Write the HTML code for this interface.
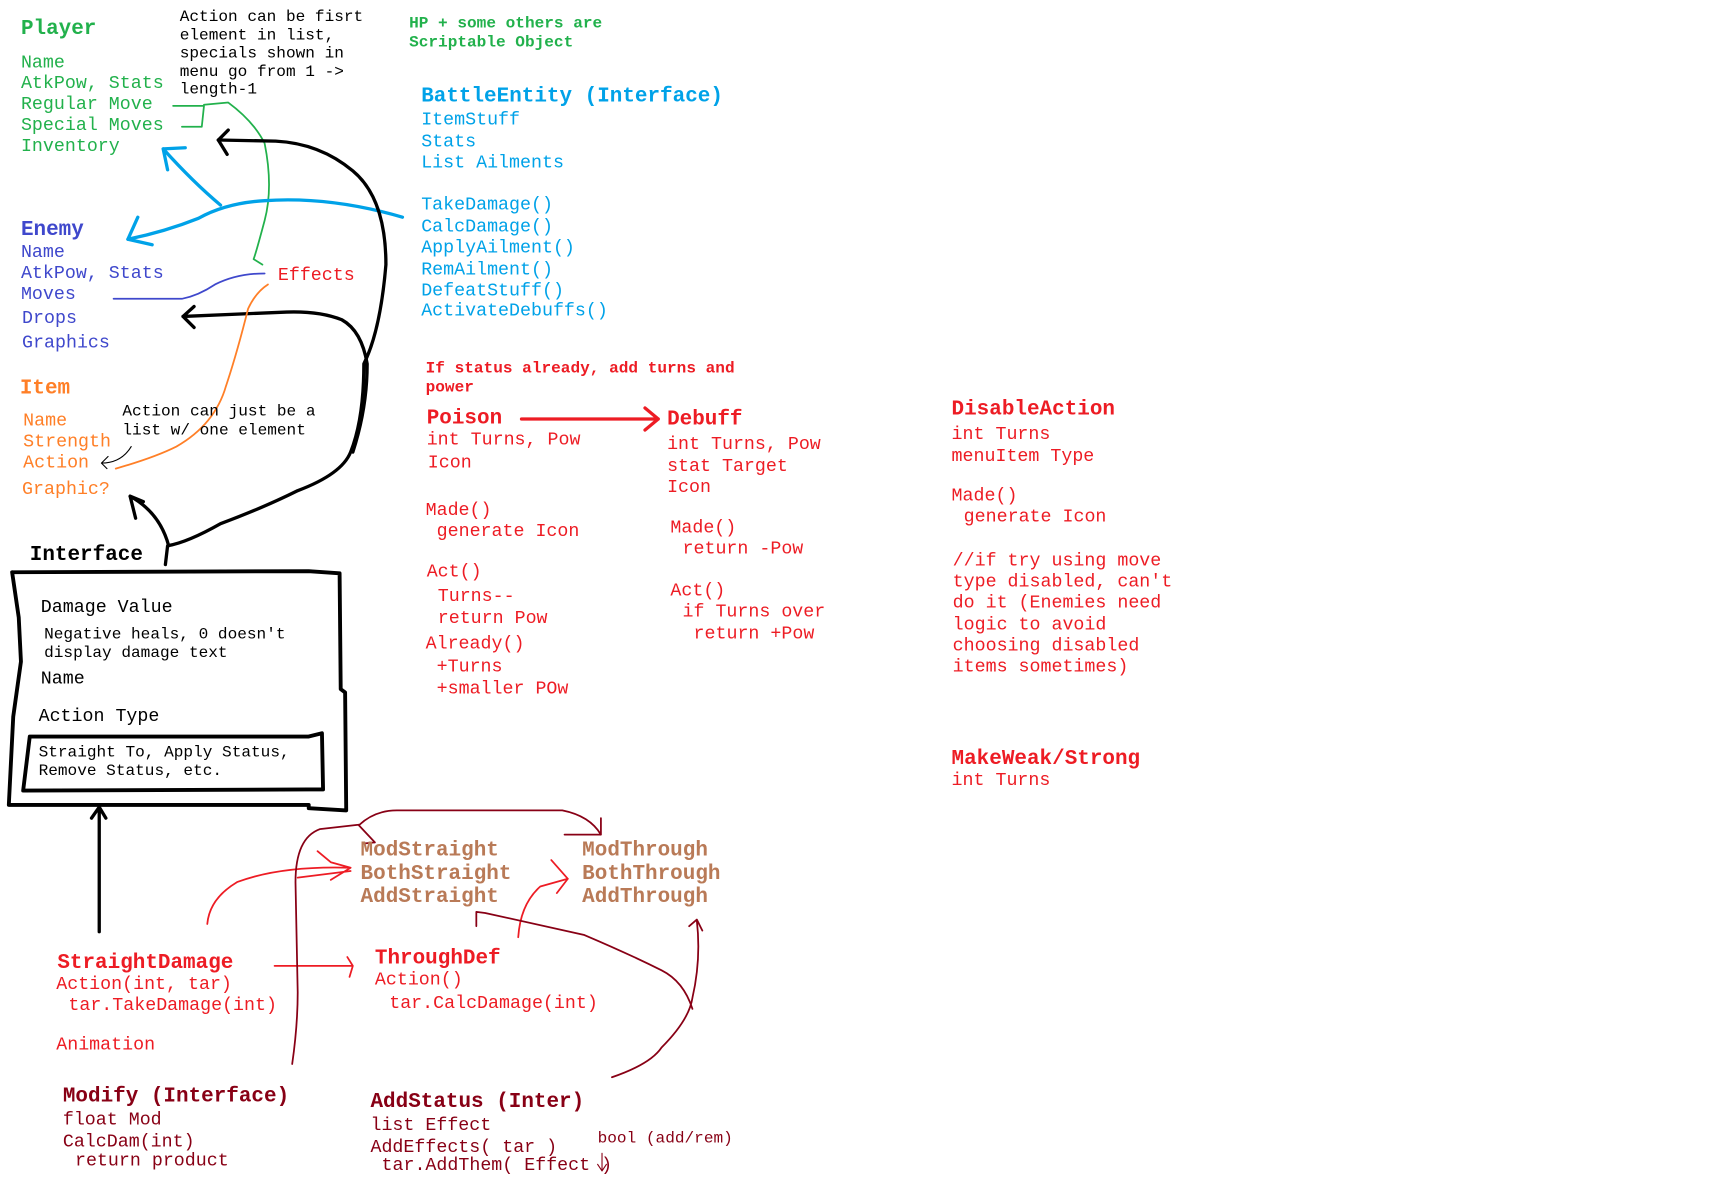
<!DOCTYPE html>
<html><head><meta charset="utf-8"><style>
html,body{margin:0;padding:0;background:#fff;width:1720px;height:1201px;overflow:hidden}
#w{position:absolute;left:0;top:0;width:1560px;height:1090px;transform:scale(1.1026);transform-origin:0 0}
.t{position:absolute;white-space:pre;font-family:"Liberation Mono","Courier New",monospace;line-height:1;margin-left:-2px;margin-top:-1px}
.n{font-size:16.6px}
.s{font-size:14.6px}
.b{font-size:19px;font-weight:bold}
.sb{font-size:14.6px;font-weight:bold}
.g{color:#22b14c}.bl{color:#00a2e8}.in{color:#3f48cc}.o{color:#ff7f27}.r{color:#ed1c24}.k{color:#000}.br{color:#b97a57}.dr{color:#880015}
svg{position:absolute;left:0;top:0}
</style></head><body><div id="w">
<svg width="1560" height="1090" fill="none" stroke-linecap="round" stroke-linejoin="round">
<g stroke="#22b14c" stroke-width="1.6">
<path d="M157 96 L185 96 L183 115 L165 115"/>
<path d="M185 95 L207 93 Q230 110 240 130 Q248 170 240 200 Q232 230 230 235 L238 240"/>
</g>
<g stroke="#00a2e8" stroke-width="3">
<path d="M365 197 Q300 178 240 182 Q205 184 180 198 Q150 210 116 217"/>
<path d="M116 217 L125 197 M116 217 L138 222"/>
<path d="M200 186 Q175 165 148 135 M148 135 L168 134 M148 135 L152 154"/>
</g>
<g stroke="#000" stroke-width="3">
<path d="M150 512 L152 495 Q170 492 200 475 Q240 460 270 445 Q310 430 318 410 Q330 380 330 330 Q345 300 350 240 Q350 180 320 155 Q290 130 250 128 L198 127"/>
<path d="M198 127 L207 118 M198 127 L206 140"/>
<path d="M153 495 Q145 465 118 450 M118 450 L123 470 M118 450 L130 455"/>
<path d="M320 410 Q333 370 333 330 Q328 300 310 290 Q290 282 260 283 L166 287 M166 287 L176 278 M166 287 L176 297"/>
<path d="M90 845 L90 732 M90 732 L83 742 M90 732 L96 742"/>
</g>
<g stroke="#000" stroke-width="3.5">
<path d="M11 519 L280 518 L308 520 L309 625 L313 628 L314 735 L280 733 L280 730 L8 730 L12 650 L19 600 L17 560 L11 519"/>
<path d="M27 668 L280 668 L292 665 L293 716 L280 716 L21 717 L27 668"/>
</g>
<path d="M103 271 L165 271 Q180 268 195 258 Q215 248 240 248" stroke="#3f48cc" stroke-width="1.6"/>
<path d="M105 425 Q140 415 160 405 Q195 385 205 350 Q215 320 225 280 Q232 265 243 258" stroke="#ff7f27" stroke-width="1.6"/>
<path d="M119 405 Q110 420 92 420 M92 420 L98 414 M92 420 L97 425" stroke="#000" stroke-width="1"/>
<g stroke="#ed1c24">
<path d="M473 380 L597 380 M585 370 L597 380 L585 390" stroke-width="3"/>
<path d="M188 838 Q190 815 215 800 Q255 785 318 787 M288 772 L300 782 L318 787 L300 798 M270 796 L318 790" stroke-width="1.6"/>
<path d="M249 876 L320 876 M315 868 L320 876 L317 886" stroke-width="1.6"/>
<path d="M470 850 Q472 820 490 804 L515 797 M500 780 L515 797 L505 810" stroke-width="1.6"/>
</g>
<g stroke="#880015" stroke-width="1.6">
<path d="M265 965 Q270 930 270 900 L268 800 Q268 760 290 752 L325 748 M325 748 L340 764 M330 765 L340 764"/>
<path d="M326 748 Q340 735 360 735 L510 735 Q535 740 545 757 M545 742 L545 757 L512 757"/>
<path d="M555 977 Q590 965 600 950 Q625 925 628 905 Q636 870 632 835 M625 840 L632 834 L637 844"/>
<path d="M628 915 Q620 890 600 880 Q570 865 530 848 L440 828 L432 827 L432 840"/>
<path d="M546 1046 L546 1062 M542 1056 L546 1062 L550 1056" stroke-width="1"/>
</g>
</svg>

<div class="t b g" style="left:21px;top:18px">Player</div>
<div class="t n g" style="left:21px;top:50px">Name</div>
<div class="t n g" style="left:21px;top:69px">AtkPow, Stats</div>
<div class="t n g" style="left:21px;top:88px">Regular Move</div>
<div class="t n g" style="left:21px;top:107px">Special Moves</div>
<div class="t n g" style="left:21px;top:126px">Inventory</div>

<div class="t s k" style="left:165px;top:9px;line-height:16.5px">Action can be fisrt
element in list,
specials shown in
menu go from 1 ->
length-1</div>

<div class="t sb g" style="left:373px;top:15px;line-height:16.5px">HP + some others are
Scriptable Object</div>

<div class="t b bl" style="left:384px;top:79px">BattleEntity (Interface)</div>
<div class="t n bl" style="left:384px;top:100px;line-height:19.5px">ItemStuff
Stats
List Ailments</div>
<div class="t n bl" style="left:384px;top:177px;line-height:19.5px">TakeDamage()
CalcDamage()
ApplyAilment()
RemAilment()
DefeatStuff()</div>
<div class="t n bl" style="left:384px;top:275px">ActivateDebuffs()</div>

<div class="t b in" style="left:21px;top:200px">Enemy</div>
<div class="t n in" style="left:21px;top:222px">Name</div>
<div class="t n in" style="left:21px;top:241px">AtkPow, Stats</div>
<div class="t n in" style="left:21px;top:260px">Moves</div>
<div class="t n in" style="left:22px;top:282px">Drops</div>
<div class="t n in" style="left:22px;top:304px">Graphics</div>

<div class="t n r" style="left:254px;top:243px">Effects</div>

<div class="t b o" style="left:20px;top:344px">Item</div>
<div class="t n o" style="left:23px;top:375px">Name</div>
<div class="t n o" style="left:23px;top:394px">Strength</div>
<div class="t n o" style="left:23px;top:413px">Action</div>
<div class="t n o" style="left:22px;top:437px">Graphic?</div>
<div class="t s k" style="left:113px;top:367px;line-height:16.5px">Action can just be a
list w/ one element</div>

<div class="t b k" style="left:29px;top:495px">Interface</div>
<div class="t n k" style="left:39px;top:544px">Damage Value</div>
<div class="t s k" style="left:42px;top:569px;line-height:16.5px">Negative heals, 0 doesn't
display damage text</div>
<div class="t n k" style="left:39px;top:609px">Name</div>
<div class="t n k" style="left:37px;top:643px">Action Type</div>
<div class="t s k" style="left:37px;top:676px;line-height:16.5px">Straight To, Apply Status,
Remove Status, etc.</div>

<div class="t sb r" style="left:388px;top:328px;line-height:16.5px">If status already, add turns and
power</div>
<div class="t b r" style="left:389px;top:371px">Poison</div>
<div class="t n r" style="left:389px;top:392px">int Turns, Pow</div>
<div class="t n r" style="left:390px;top:413px">Icon</div>
<div class="t n r" style="left:388px;top:456px">Made()</div>
<div class="t n r" style="left:398px;top:475px">generate Icon</div>
<div class="t n r" style="left:389px;top:512px">Act()</div>
<div class="t n r" style="left:399px;top:532px;line-height:19.5px">Turns--
return Pow</div>
<div class="t n r" style="left:388px;top:577px">Already()</div>
<div class="t n r" style="left:398px;top:596px;line-height:19.5px">+Turns
+smaller POw</div>

<div class="t b r" style="left:607px;top:372px">Debuff</div>
<div class="t n r" style="left:607px;top:394px;line-height:19.5px">int Turns, Pow
stat Target
Icon</div>
<div class="t n r" style="left:610px;top:472px">Made()</div>
<div class="t n r" style="left:621px;top:491px">return -Pow</div>
<div class="t n r" style="left:610px;top:529px">Act()</div>
<div class="t n r" style="left:621px;top:548px">if Turns over</div>
<div class="t n r" style="left:631px;top:568px">return +Pow</div>

<div class="t b r" style="left:865px;top:363px">DisableAction</div>
<div class="t n r" style="left:865px;top:385px;line-height:19.5px">int Turns
menuItem Type</div>
<div class="t n r" style="left:865px;top:443px">Made()</div>
<div class="t n r" style="left:876px;top:462px">generate Icon</div>
<div class="t n r" style="left:866px;top:500px;line-height:19.2px">//if try using move
type disabled, can't
do it (Enemies need
logic to avoid
choosing disabled
items sometimes)</div>
<div class="t b r" style="left:865px;top:680px">MakeWeak/Strong</div>
<div class="t n r" style="left:865px;top:701px">int Turns</div>

<div class="t b br" style="left:329px;top:762px;line-height:21px">ModStraight
BothStraight
AddStraight</div>
<div class="t b br" style="left:530px;top:762px;line-height:21px">ModThrough
BothThrough
AddThrough</div>

<div class="t b r" style="left:54px;top:865px">StraightDamage</div>
<div class="t n r" style="left:53px;top:886px">Action(int, tar)</div>
<div class="t n r" style="left:64px;top:905px">tar.TakeDamage(int)</div>
<div class="t n r" style="left:53px;top:941px">Animation</div>

<div class="t b r" style="left:342px;top:861px">ThroughDef</div>
<div class="t n r" style="left:342px;top:882px">Action()</div>
<div class="t n r" style="left:355px;top:903px">tar.CalcDamage(int)</div>

<div class="t b dr" style="left:59px;top:986px">Modify (Interface)</div>
<div class="t n dr" style="left:59px;top:1007px;line-height:19.5px">float Mod
CalcDam(int)</div>
<div class="t n dr" style="left:70px;top:1046px">return product</div>

<div class="t b dr" style="left:338px;top:991px">AddStatus (Inter)</div>
<div class="t n dr" style="left:338px;top:1012px;line-height:19.5px">list Effect
AddEffects( tar )</div>
<div class="t n dr" style="left:348px;top:1050px">tar.AddThem( Effect )</div>
<div class="t s dr" style="left:544px;top:1027px">bool (add/rem)</div>
</div></body></html>
